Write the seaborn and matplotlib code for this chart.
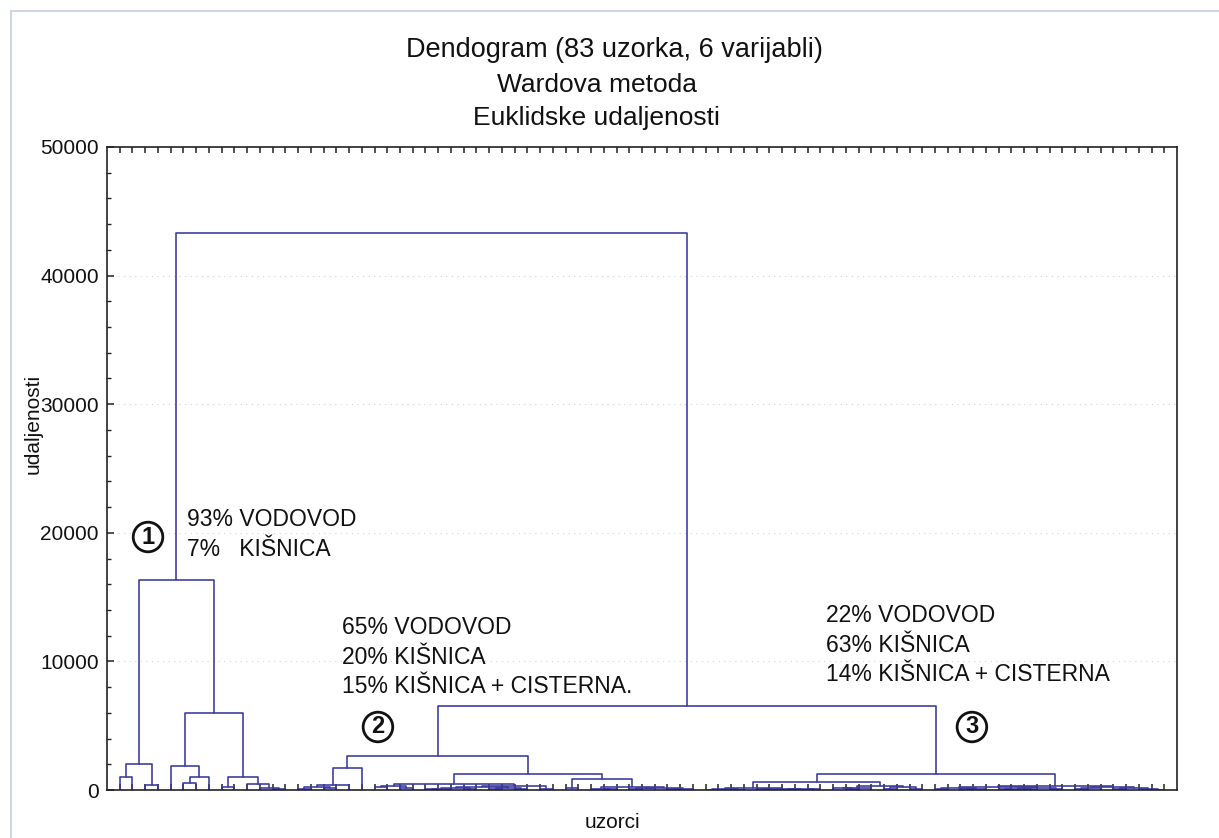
import matplotlib
matplotlib.use("Agg")
import matplotlib.pyplot as plt
from matplotlib.lines import Line2D
from matplotlib.ticker import MultipleLocator, FixedLocator
import numpy as np
import pandas as pd
import seaborn as sns

# Merge height between neighbouring samples in the final leaf order
# (cophenetic distance of leaf k and leaf k+1); the tree is rebuilt from these.
cluster1_gaps = [1010, 2020, 390, 16330, 1870, 570, 1040, 5990, 260, 1010, 440, 180, 100]
join_1_23 = 43300
cluster2_gaps = [80, 200, 150, 390, 1710, 2670, 200, 300, 150, 470,
                 60, 100, 150, 50, 200, 40, 120, 70, 300, 80,
                 1220, 150, 860, 90, 60, 250, 60, 120, 180, 60, 100]
join_2_3 = 6500
cluster3_gaps = [30, 60, 20, 130, 40, 110, 30, 70, 50,
                 650,
                 120, 60, 180, 300, 100, 200, 80,
                 1220,
                 50, 120, 40, 90, 260, 60, 100, 30, 150, 40,
                 330,
                 80, 150, 200, 40, 120, 60, 30]

y_ticks = [0, 10000, 20000, 30000, 40000, 50000]

title = "Dendogram (83 uzorka, 6 varijabli)"
subtitle1 = "Wardova metoda"
subtitle2 = "Euklidske udaljenosti"
x_label = "uzorci"
y_label = "udaljenosti"

group_labels = ["1", "2", "3"]
group_texts = [
    "93% VODOVOD\n7%   KIŠNICA",
    "65% VODOVOD\n20% KIŠNICA\n15% KIŠNICA + CISTERNA.",
    "22% VODOVOD\n63% KIŠNICA\n14% KIŠNICA + CISTERNA",
]

gaps = np.array(cluster1_gaps + [join_1_23] + cluster2_gaps + [join_2_3] + cluster3_gaps, float)
n_leaves = len(gaps) + 1

# Build the link segments of the ordered dendrogram
rows = []


def build(lo, hi):
    if lo == hi:
        return lo + 1.0, 0.0
    k = lo + int(np.argmax(gaps[lo:hi]))
    xl, yl = build(lo, k)
    xr, yr = build(k + 1, hi)
    h = gaps[k]
    link = len(rows) // 4
    for order, (px, py) in enumerate([(xl, yl), (xl, h), (xr, h), (xr, yr)]):
        rows.append({"link": link, "order": order, "x": px, "y": py})
    return (xl + xr) / 2.0, h


build(0, n_leaves - 1)
links = pd.DataFrame(rows)

sns.set_theme(style="white")
plt.rcParams["font.family"] = ["Liberation Sans", "DejaVu Sans"]

fig = plt.figure(figsize=(12.19, 8.38), dpi=100)
ax = fig.add_axes([107 / 1219, 1 - 790 / 838, 1070 / 1219, 643 / 838])

sns.lineplot(data=links, x="x", y="y", units="link", estimator=None, sort=False,
             color="#3838a0", linewidth=1.15, ax=ax, legend=False)

ax.set_xlim(0, n_leaves + 1)
ax.set_ylim(0, 50000)

for s in ax.spines.values():
    s.set_color("#222222")
    s.set_linewidth(1.2)
    s.set_visible(True)

ax.yaxis.set_major_locator(FixedLocator(y_ticks))
ax.yaxis.set_minor_locator(MultipleLocator(2000))
ax.set_yticklabels([str(v) for v in y_ticks])
ax.xaxis.set_major_locator(FixedLocator(np.arange(1, n_leaves + 1)))
ax.set_xticklabels([])
ax.tick_params(axis="x", which="major", direction="in", length=4, width=1.1,
               color="#222222", top=True, bottom=True)
ax.tick_params(axis="y", which="major", direction="in", length=5, width=1.1,
               color="#222222", left=True, right=False, labelsize=15, pad=6,
               labelcolor="#111111")
ax.tick_params(axis="y", which="minor", direction="in", length=3, width=1.0,
               color="#222222", left=True, right=False)

for v in y_ticks[1:-1]:
    ax.axhline(v, color="#d4d4d4", linewidth=0.8, linestyle=(0, (1, 4)), zorder=0)

ax.set_xlabel(x_label, fontsize=15, color="#111111")
ax.set_ylabel(y_label, fontsize=15, color="#111111")
ax.xaxis.set_label_coords((612 - 107) / 1070, -(822 - 790) / 643)
ax.yaxis.set_label_coords(-(107 - 33) / 1070, (790 - 424) / 643)
ax.xaxis.label.set_va("center")
ax.yaxis.label.set_va("center")

# Cluster annotations
text_kw = dict(fontsize=16.5, va="center", ha="left", linespacing=1.38, color="#111111")
ax.text(6.28, 19900, group_texts[0], **text_kw)
ax.text(18.45, 10342, group_texts[1], **text_kw)
ax.text(56.45, 11275, group_texts[2], **text_kw)

for lab, (cx, cy) in zip(group_labels, [(3.22, 19673), (21.27, 4899), (67.9, 4899)]):
    ax.text(cx, cy, lab, fontsize=17, fontweight="bold", ha="center", va="center",
            color="#111111",
            bbox=dict(boxstyle="circle,pad=0.14", fc="white", ec="#111111", lw=2.0))

# Titles
fig.text(614 / 1219, 1 - 50 / 838, title, fontsize=19.5, ha="center", va="center", color="#111111")
fig.text(597 / 1219, 1 - 85 / 838, subtitle1, fontsize=19, ha="center", va="center", color="#111111")
fig.text(596 / 1219, 1 - 118 / 838, subtitle2, fontsize=19, ha="center", va="center", color="#111111")

# Light frame lines along the top and left of the page
fig.add_artist(Line2D([11 / 1219, 11 / 1219], [0, 1 - 11 / 838], transform=fig.transFigure,
                      color="#c5cde0", linewidth=1.2))
fig.add_artist(Line2D([11 / 1219, 1], [1 - 11 / 838, 1 - 11 / 838], transform=fig.transFigure,
                      color="#c5cde0", linewidth=1.2))

fig.savefig("out.png", dpi=100, facecolor="white")
